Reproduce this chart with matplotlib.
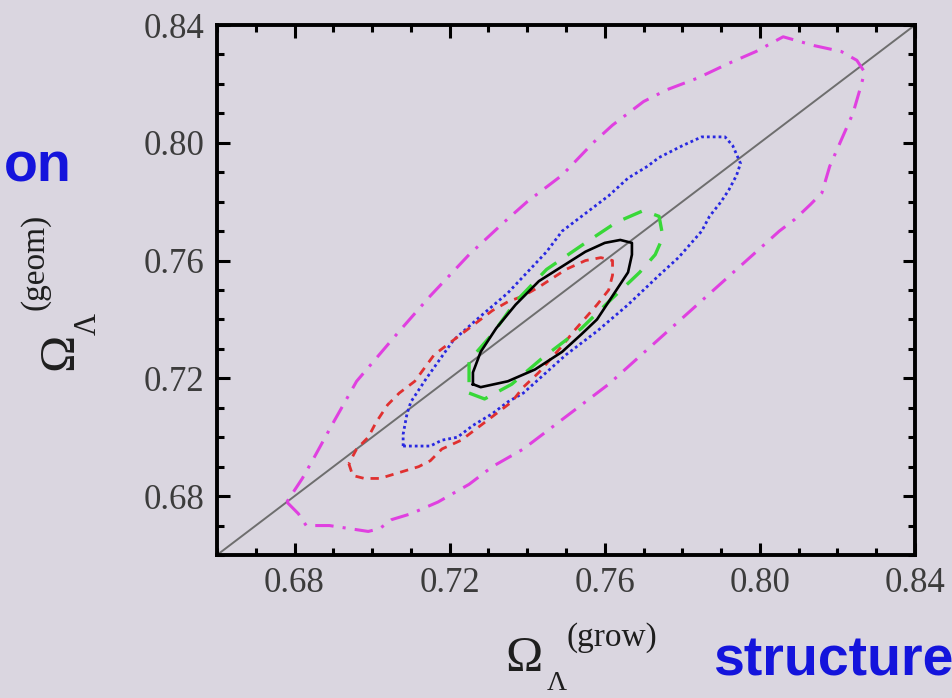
import matplotlib
matplotlib.use("Agg")
import matplotlib.pyplot as plt
from matplotlib.ticker import MultipleLocator

# contour outlines (x = Omega_L grow, y = Omega_L geom)
mag_x = [0.678, 0.681, 0.683, 0.689, 0.694, 0.699, 0.702, 0.705, 0.710, 0.717, 0.725, 0.731,
         0.739, 0.750, 0.761, 0.772, 0.783, 0.794, 0.805, 0.809, 0.813, 0.816, 0.818, 0.821,
         0.824, 0.826, 0.827, 0.825, 0.821, 0.814, 0.806, 0.799, 0.792, 0.784, 0.776, 0.770,
         0.762, 0.757, 0.749, 0.740, 0.734, 0.725, 0.715, 0.707, 0.696, 0.690, 0.685, 0.682, 0.678]
mag_y = [0.678, 0.674, 0.670, 0.670, 0.669, 0.668, 0.669, 0.672, 0.674, 0.678, 0.684, 0.690,
         0.696, 0.707, 0.718, 0.731, 0.744, 0.757, 0.770, 0.774, 0.779, 0.783, 0.792, 0.801,
         0.810, 0.819, 0.824, 0.828, 0.831, 0.833, 0.836, 0.831, 0.827, 0.822, 0.818, 0.814,
         0.806, 0.800, 0.789, 0.780, 0.773, 0.762, 0.748, 0.736, 0.719, 0.705, 0.693, 0.686, 0.678]

blue_x = [0.708, 0.715, 0.718, 0.722, 0.726, 0.731, 0.735, 0.739, 0.750, 0.758, 0.766, 0.774,
          0.779, 0.785, 0.787, 0.790, 0.792, 0.794, 0.795, 0.793, 0.791, 0.785, 0.780, 0.774,
          0.771, 0.766, 0.761, 0.754, 0.749, 0.745, 0.740, 0.735, 0.727, 0.721, 0.714, 0.712,
          0.710, 0.709, 0.708, 0.708]
blue_y = [0.697, 0.697, 0.699, 0.700, 0.704, 0.708, 0.712, 0.715, 0.728, 0.736, 0.745, 0.755,
          0.761, 0.770, 0.775, 0.780, 0.784, 0.789, 0.793, 0.799, 0.802, 0.802, 0.799, 0.795,
          0.792, 0.788, 0.782, 0.775, 0.770, 0.763, 0.756, 0.749, 0.740, 0.733, 0.720, 0.716,
          0.712, 0.708, 0.701, 0.697]

red_x = [0.694, 0.695, 0.698, 0.702, 0.707, 0.712, 0.715, 0.718, 0.723, 0.727, 0.731, 0.736,
         0.739, 0.743, 0.749, 0.752, 0.758, 0.761, 0.762, 0.762, 0.759, 0.755, 0.750, 0.743,
         0.739, 0.735, 0.731, 0.726, 0.723, 0.718, 0.716, 0.711, 0.707, 0.704, 0.701, 0.699,
         0.696, 0.694]
red_y = [0.691, 0.687, 0.686, 0.686, 0.688, 0.690, 0.692, 0.696, 0.699, 0.703, 0.707, 0.712,
         0.717, 0.722, 0.731, 0.736, 0.745, 0.750, 0.755, 0.760, 0.761, 0.760, 0.757, 0.751,
         0.748, 0.746, 0.743, 0.738, 0.735, 0.730, 0.728, 0.719, 0.715, 0.711, 0.705, 0.700,
         0.696, 0.691]

green_x = [0.725, 0.729, 0.736, 0.744, 0.754, 0.761, 0.769, 0.773, 0.775, 0.774, 0.770, 0.763,
           0.755, 0.745, 0.737, 0.731, 0.725, 0.725, 0.725]
green_y = [0.715, 0.713, 0.718, 0.727, 0.737, 0.746, 0.756, 0.762, 0.768, 0.775, 0.777, 0.773,
           0.766, 0.757, 0.746, 0.735, 0.726, 0.720, 0.715]

black_x = [0.726, 0.728, 0.735, 0.742, 0.749, 0.754, 0.758, 0.762, 0.766, 0.767, 0.767, 0.764,
           0.760, 0.755, 0.749, 0.743, 0.737, 0.732, 0.728, 0.726, 0.726]
black_y = [0.718, 0.717, 0.719, 0.723, 0.729, 0.735, 0.740, 0.748, 0.756, 0.762, 0.766, 0.767,
           0.766, 0.763, 0.758, 0.753, 0.745, 0.737, 0.729, 0.722, 0.718]

diag = [0.66, 0.84]
ticks = [0.68, 0.72, 0.76, 0.80, 0.84]
tick_labels = ["0.68", "0.72", "0.76", "0.80", "0.84"]

bg = "#dad6e0"
W, H = 952, 698

fig = plt.figure(figsize=(W / 100, H / 100), dpi=100, facecolor=bg)
ax = fig.add_axes([217 / W, 1 - 555 / H, (915 - 217) / W, (555 - 25) / H], facecolor=bg)

ax.plot(diag, diag, color="#6e6e6e", lw=1.4, zorder=1)
ax.plot(mag_x, mag_y, color="#e040e0", lw=2.2, ls=(0, (6, 3, 1, 3)))
ax.plot(blue_x, blue_y, color="#2828e0", lw=2.0, ls=(0, (1, 1.1)))
ax.plot(red_x, red_y, color="#e03030", lw=2.0, ls=(0, (3, 2.5)))
ax.plot(green_x, green_y, color="#38d838", lw=2.4, ls=(0, (6, 4)))
ax.plot(black_x, black_y, color="black", lw=1.9)

ax.set_xlim(diag)
ax.set_ylim(diag)
ax.set_xticks(ticks)
ax.set_yticks(ticks)
ax.set_xticklabels(tick_labels)
ax.set_yticklabels(tick_labels)
ax.xaxis.set_minor_locator(MultipleLocator(0.01))
ax.yaxis.set_minor_locator(MultipleLocator(0.01))
ax.tick_params(which="both", direction="in", top=True, right=True, width=2.2,
               color="black")
ax.tick_params(which="major", length=9, labelsize=25, labelcolor="#3c3c3c", pad=9)
ax.tick_params(which="minor", length=5)
for lab in ax.get_xticklabels() + ax.get_yticklabels():
    lab.set_family("Liberation Serif")
for sp in ax.spines.values():
    sp.set_linewidth(2.8)


def ftext(x, y, s, **kw):
    fig.text(x / W, 1 - y / H, s, **kw)


serif = dict(family="Liberation Serif", color="#1e1e1e")
# x axis label
ftext(524, 671, "Ω", fontsize=36, ha="center", va="baseline", **serif)
ftext(547, 690, "Λ", fontsize=20, ha="left", va="baseline", **serif)
ftext(566, 646, "(grow)", fontsize=24, ha="left", va="baseline", **serif)
# y axis label
ftext(72, 370, "Ω", fontsize=36, rotation=90, rotation_mode="anchor",
      ha="left", va="baseline", **serif)
ftext(96, 335, "Λ", fontsize=22, rotation=90, rotation_mode="anchor",
      ha="left", va="baseline", **serif)
ftext(43, 310, "(geom)", fontsize=24, rotation=90, rotation_mode="anchor",
      ha="left", va="baseline", **serif)

blue_txt = dict(family="Liberation Sans", weight="bold", color="#1414dc", fontsize=40)
ftext(72, 182, "on", ha="right", va="baseline", **blue_txt)
ftext(713, 675, "structure", ha="left", va="baseline", **blue_txt)

fig.savefig("out.png", dpi=100, facecolor=bg)
